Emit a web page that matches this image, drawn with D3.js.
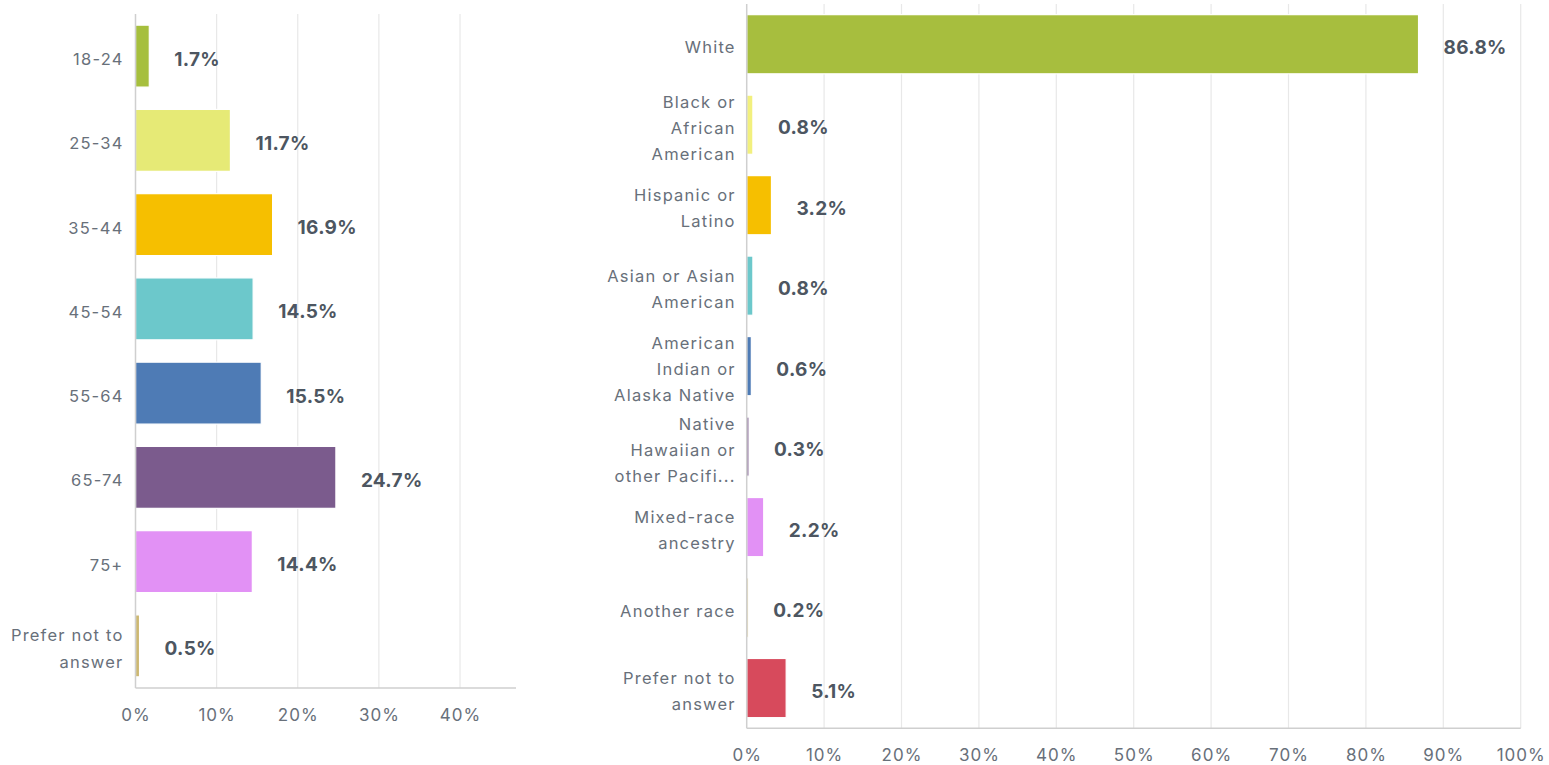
<!DOCTYPE html>
<html>
<head>
<meta charset="utf-8">
<script src="https://cdn.jsdelivr.net/npm/d3@7"></script>
<style>
  body { margin: 0; background: #fff; }
  svg { display: block; }
  .cat { font-family: Inter, "Open Sans", sans-serif; font-size: 16.5px; fill: #68707a; letter-spacing: 1.2px; }
  .tick text { font-family: Inter, "Open Sans", sans-serif; font-size: 17px; fill: #68707a; letter-spacing: 1px; }
  .val { font-family: Inter, "Open Sans", sans-serif; font-size: 19px; font-weight: 700; fill: #4d5661; letter-spacing: 0.3px; }
</style>
</head>
<body>
<svg width="1549" height="765"></svg>
<script>
// age chart
const ageCats = ["18-24", "25-34", "35-44", "45-54", "55-64", "65-74", "75+", "Prefer not to\nanswer"]
const ageVals = [0.017, 0.117, 0.169, 0.145, 0.155, 0.247, 0.144, 0.005]
const ageColors = ["#a6bf3d", "#e6ea76", "#f6bf00", "#6cc8cb", "#4e7bb5", "#7b5b8d", "#e291f5", "#cdb872"]
const ageTicks = [0, 0.1, 0.2, 0.3, 0.4]

// race chart
const raceCats = ["White", "Black or\nAfrican\nAmerican", "Hispanic or\nLatino", "Asian or Asian\nAmerican",
    "American\nIndian or\nAlaska Native", "Native\nHawaiian or\nother Pacifi...", "Mixed-race\nancestry",
    "Another race", "Prefer not to\nanswer"]
const raceVals = [0.868, 0.008, 0.032, 0.008, 0.006, 0.003, 0.022, 0.002, 0.051]
const raceColors = ["#a7be3e", "#f2f07e", "#f6bf00", "#6cc8cb", "#4e7bb5", "#7b5b8d", "#e291f5", "#cdb872", "#d74a5c"]
const raceTicks = [0, 0.1, 0.2, 0.3, 0.4, 0.5, 0.6, 0.7, 0.8, 0.9, 1]

const svg = d3.select("svg")
const fmtTick = d3.format(".0%")
const fmtVal = d3.format(".1%")

function barChart(cats, vals, colors, ticks, xDomain, xRange, yRange, labelGap, lineH){
    const x = d3.scaleLinear().domain(xDomain).range(xRange)
    const y = d3.scaleBand().domain(cats).range(yRange).paddingInner(0.265).paddingOuter(0.1325)
    const g = svg.append("g")

    // gridlines
    g.selectAll("line.grid")
        .data(ticks.filter(t => t > 0))
        .enter()
        .append("line")
        .attr("class", "grid")
        .attr("x1", d => x(d)).attr("x2", d => x(d))
        .attr("y1", yRange[0]).attr("y2", yRange[1])
        .attr("stroke", "#e8e8e8")
        .attr("stroke-width", 1.2)

    // bars
    g.selectAll("rect.bar")
        .data(vals)
        .enter()
        .append("rect")
        .attr("class", "bar")
        .attr("x", x(0))
        .attr("y", (d, i) => y(cats[i]))
        .attr("width", d => x(d) - x(0))
        .attr("height", y.bandwidth())
        .attr("fill", (d, i) => colors[i])
        .attr("stroke", "#fff")
        .attr("stroke-width", 1.2)

    // axis lines
    g.append("line")
        .attr("x1", x(0)).attr("x2", x(0))
        .attr("y1", yRange[0]).attr("y2", yRange[1])
        .attr("stroke", "#cfcfcf").attr("stroke-width", 1.5)
    g.append("line")
        .attr("x1", x(0)).attr("x2", xRange[1])
        .attr("y1", yRange[1]).attr("y2", yRange[1])
        .attr("stroke", "#cfcfcf").attr("stroke-width", 1.5)

    // x axis labels
    const axis = g.append("g")
        .attr("transform", `translate(0, ${yRange[1]})`)
        .call(d3.axisBottom(x).tickValues(ticks).tickFormat(fmtTick).tickSize(0).tickPadding(21))
    axis.select(".domain").remove()

    // value labels
    g.selectAll("text.val")
        .data(vals)
        .enter()
        .append("text")
        .attr("class", "val")
        .attr("x", d => x(d) + 25)
        .attr("y", (d, i) => y(cats[i]) + y.bandwidth() / 2 + 3)
        .attr("dominant-baseline", "central")
        .text(d => fmtVal(d))

    // category labels
    const labels = g.selectAll("text.cat")
        .data(cats)
        .enter()
        .append("text")
        .attr("class", "cat")
        .attr("text-anchor", "end")
        .attr("dominant-baseline", "central")
        .attr("y", d => y(d) + y.bandwidth() / 2 + 3)
    labels.each(function(d){
        const lines = d.split("\n")
        d3.select(this).selectAll("tspan")
            .data(lines)
            .enter()
            .append("tspan")
            .attr("x", x(0) - labelGap)
            .attr("dy", (l, i) => i === 0 ? -(lines.length - 1) * lineH / 2 : lineH)
            .text(l => l)
    })
}

barChart(ageCats, ageVals, ageColors, ageTicks, [0, 0.469], [135.5, 516], [14, 688], 12, 27)
barChart(raceCats, raceVals, raceColors, raceTicks, [0, 1], [746.7, 1520.7], [4, 728.3], 11, 26)
</script>
</body>
</html>
